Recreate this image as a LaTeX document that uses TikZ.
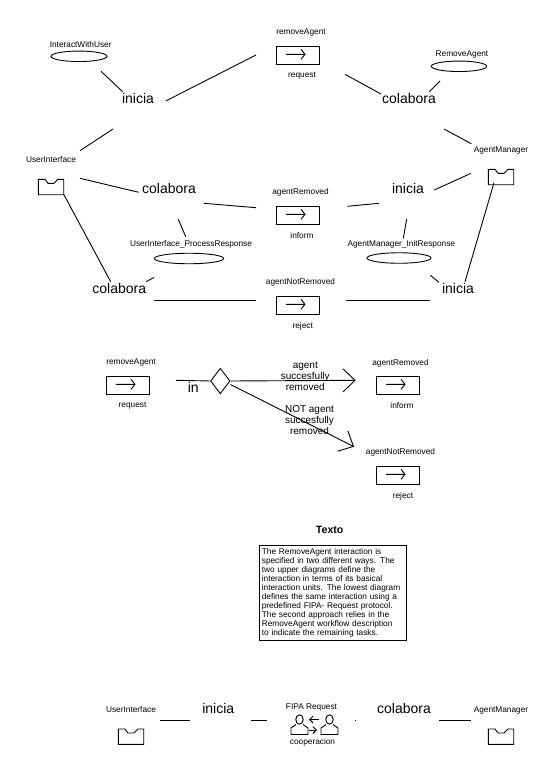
\documentclass[tikz,border=0pt]{standalone}
\usepackage{fontspec}
\setmainfont{Liberation Sans}
\usetikzlibrary{shapes.geometric,arrows.meta}
\tikzset{
  smalltxt/.style={font=\fontsize{8.3}{9}\selectfont,inner sep=0,yshift=-1pt},
  bigtxt/.style={font=\fontsize{14}{16}\selectfont,inner sep=0},
  guardtxt/.style={font=\fontsize{10}{10.8}\selectfont,align=center,inner sep=0},
  link/.style={line width=0.9pt},
  flow/.style={line width=0.9pt,-{Straight Barb[length=12pt,width=23pt]}},
  swap/.style={line width=0.9pt,-{Straight Barb[length=3.5pt,width=7pt]}},
  task/.style={draw,line width=0.9pt,ellipse,minimum width=#1,minimum height=10.5pt,inner sep=0},
  gate/.style={draw,line width=0.9pt,diamond,minimum width=19.5pt,minimum height=25.5pt,inner sep=0},
  msgbox/.style={draw,line width=0.9pt,rectangle,minimum width=43.4pt,minimum height=18pt,inner sep=0},
  rolebox/.style={rectangle,minimum width=25.4pt,minimum height=15.4pt,inner sep=0},
  notebox/.style={draw,line width=0.9pt,rectangle,minimum width=146.7pt,minimum height=95.4pt,
    text width=141.7pt,inner xsep=2.5pt,inner ysep=0,align=left,
    font=\fontsize{8.3}{9.07}\selectfont},
  msg/.pic={
    \node[msgbox] (-box) {};
    \draw[link] (-12,-1) -- (7,-1) (3,-6) -- (7,-1) -- (3,4);
  },
  role/.pic={
    \node[rolebox] (-box) {};
    \draw[link] (-12.7,-7.7) -- (-6,-7.7) -- (-3,-3.7) -- (3,-3.7) -- (7,-7.7) -- (12.7,-7.7)
      -- (12.7,7.7) -- (-12.7,7.7) -- cycle;
  },
  person/.pic={
    \draw[link] (0,-5) ellipse (3.7 and 4.7);
    \draw[link] (-3.5,0) -- (-8.5,3.5) -- (-8.5,10) -- (8.5,10) -- (8.5,3.5) -- (3.5,0);
  }
}
\begin{document}
\begin{tikzpicture}[x=1pt,y=-1pt]
\useasboundingbox (0,0) rectangle (540,758);
% upper diagrams
\node[smalltxt] (iwulbl) at (80.7,44) {InteractWithUser};
\node[task=56pt] (iwu) at (79,56.3) {};
\node[bigtxt] (ini1) at (138,98) {inicia};
\node[smalltxt] (uilbl) at (51,159) {UserInterface};
\pic (ui) at (51,187) {role};
\node[bigtxt] (col2) at (169,188) {colabora};
\node[smalltxt] (uprlbl) at (191,243) {UserInterface\_ProcessResponse};
\node[task=69.4pt] (upr) at (189,258.5) {};
\node[bigtxt] (col3) at (119.3,288) {colabora};
\pic (rq) at (298,55.3) {msg};
\node[smalltxt] (rqtop) at (301,32) {removeAgent};
\node[smalltxt] (rqbot) at (302,75) {request};
\pic (inf) at (298,215.3) {msg};
\node[smalltxt] (inftop) at (300.5,191.7) {agentRemoved};
\node[smalltxt] (infbot) at (302,235) {inform};
\pic (rej) at (298,305.3) {msg};
\node[smalltxt] (rejtop) at (300.5,281.7) {agentNotRemoved};
\node[smalltxt] (rejbot) at (302.7,325) {reject};
\node[smalltxt] (ralbl) at (462,53.7) {RemoveAgent};
\node[task=55.4pt] (ra) at (459,66.3) {};
\node[bigtxt] (col1) at (409,98) {colabora};
\node[smalltxt] (amlbl) at (501,149.3) {AgentManager};
\pic (am) at (501,177) {role};
\node[bigtxt] (ini2) at (408,188) {inicia};
\node[smalltxt] (airlbl) at (401.3,243) {AgentManager\_InitResponse};
\node[task=64pt] (air) at (399,258) {};
\node[bigtxt] (ini3) at (458,288) {inicia};
\draw[link] ([shift={(22,15)}]iwu.center) -- ([shift={(-15.3,-6.3)}]ini1.center);
\draw[link] ([shift={(27.7,3)}]ini1.center) -- ([shift={(-42,-0.3)}]rq-box.center);
\draw[link] ([shift={(-25,31)}]ini1.center) -- ([shift={(29,-9.3)}]uilbl.center);
\draw[link] ([shift={(29,-8.7)}]ui-box.center) -- ([shift={(-30.3,4.3)}]col2.center);
\draw[link] ([shift={(35,15.3)}]col2.center) -- ([shift={(-42,-7.6)}]inf-box.center);
\draw[link] ([shift={(9.3,31.3)}]col2.center) -- ([shift={(-5.3,-7.3)}]uprlbl.center);
\draw[link] ([shift={(12.7,7.3)}]ui-box.center) -- ([shift={(-8.6,-6.3)}]col3.center);
\draw[link] ([shift={(-35,19)}]upr.center) -- ([shift={(26.7,-6.3)}]col3.center);
\draw[link] ([shift={(34.7,12.3)}]col3.center) -- ([shift={(-42,-5)}]rej-box.center);
\draw[link] ([shift={(47,19)}]rq-box.center) -- ([shift={(-28,-4)}]col1.center);
\draw[link] ([shift={(-19,14.7)}]ra.center) -- ([shift={(20.3,-6.3)}]col1.center);
\draw[link] ([shift={(35,31)}]col1.center) -- ([shift={(-29.7,-6.6)}]amlbl.center);
\draw[link] ([shift={(-30,-3.7)}]am-box.center) -- ([shift={(26.3,2)}]ini2.center);
\draw[link] ([shift={(-7,5.7)}]am-box.center) -- ([shift={(7,-6.3)}]ini3.center);
\draw[link] ([shift={(49.3,-9)}]inf-box.center) -- ([shift={(-29,15.3)}]ini2.center);
\draw[link] ([shift={(-1.3,31)}]ini2.center) -- ([shift={(2,-5.7)}]airlbl.center);
\draw[link] ([shift={(31.3,17.3)}]air.center) -- ([shift={(-19,-5.7)}]ini3.center);
\draw[link] ([shift={(48,-5)}]rej-box.center) -- ([shift={(-28,12.3)}]ini3.center);
% lowest diagram
\pic (rq2) at (128,385.3) {msg};
\node[smalltxt] (rq2top) at (131,362) {removeAgent};
\node[smalltxt] (rq2bot) at (132.5,405) {request};
\node[bigtxt] (inlbl) at (193.3,387) {in};
\node[gate] (dec) at (220.3,381) {};
\pic (inf2) at (398,385.3) {msg};
\node[smalltxt] (inf2top) at (400.5,362) {agentRemoved};
\node[smalltxt] (inf2bot) at (402,405) {inform};
\pic (rej2) at (398,475.3) {msg};
\node[smalltxt] (rej2top) at (400.5,451.7) {agentNotRemoved};
\node[smalltxt] (rej2bot) at (403,495) {reject};
\coordinate (okend) at (355.7,380.3);
\coordinate (notend) at (354,446.7);
\draw[link] ([shift={(48,-5)}]rq2-box.center) -- (dec.west);
\draw[flow] (dec.east) -- (okend);
\draw[flow] (dec.east) ++(0,3.5) -- (notend);
\node[guardtxt] (okgrd) at (305.3,376.5) {agent\\succesfully\\removed};
\node[guardtxt] (notgrd) at (309.5,420.3) {NOT agent\\succesfully\\removed};
% text
\node[font=\bfseries\fontsize{10.6}{12}\selectfont,inner sep=0] (notehead) at (329.7,530) {Texto};
\node[notebox] (note) at (332.7,593) {The RemoveAgent interaction is\\
specified in two different ways. The\\
two upper diagrams define the\\
interaction in terms of its basical\\
interaction units. The lowest diagram\\
defines the same interaction using a\\
predefined FIPA- Request protocol.\\
The second approach relies in the\\
RemoveAgent workflow description\\
to indicate the remaining tasks.};
% protocol
\node[smalltxt] (ui3lbl) at (131,709) {UserInterface};
\pic (ui3) at (131,736.7) {role};
\node[bigtxt] (ini4) at (218.3,708) {inicia};
\node[smalltxt] (fipalbl) at (311.5,706) {FIPA Request};
\pic (ca) at (299.5,724.5) {person};
\pic (cb) at (329.5,724.5) {person};
\node[minimum width=48pt,minimum height=18pt,inner sep=0] (fipa) at (314.5,725) {};
\draw[swap] (319,719.5) -- (309,719.5);
\draw[swap] (309,730) -- (317,730);
\node[smalltxt] (fipabot) at (312.5,741) {cooperacion};
\node[bigtxt] (col4) at (404,708) {colabora};
\node[smalltxt] (am3lbl) at (501,709) {AgentManager};
\pic (am3) at (501,736.7) {role};
\draw[link] ([shift={(29,10)}]ui3lbl.center) -- ([shift={(-28.3,12)}]ini4.center);
\draw[link] ([shift={(32.4,12)}]ini4.center) -- ([shift={(-48,-5)}]fipa.center);
\draw[link] ([shift={(41,-4.7)}]fipa.center) -- ([shift={(-48.7,12.3)}]col4.center);
\draw[link] ([shift={(35.3,12.3)}]col4.center) -- ([shift={(-30,10.3)}]am3lbl.center);
\end{tikzpicture}
\end{document}
